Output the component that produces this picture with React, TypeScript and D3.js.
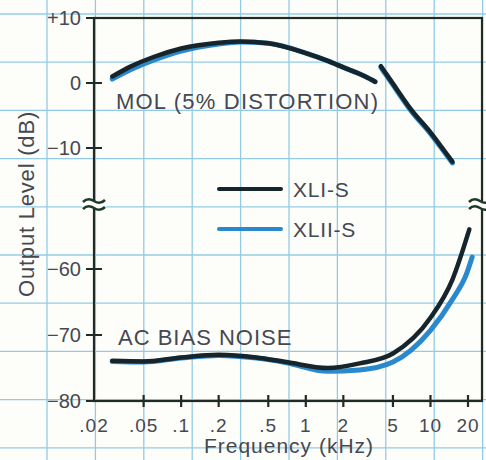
import React, { useRef, useEffect } from 'react';
import * as d3 from 'd3';

// x tick labels (kHz)
const freqTicks = [0.02, 0.05, 0.1, 0.2, 0.5, 1, 2, 5, 10, 20];
const freqTickLabels = ['.02', '.05', '.1', '.2', '.5', '1', '2', '5', '10', '20'];
// y tick values, upper and lower part of the broken axis
const upperTicks = [10, 0, -10];
const upperTickLabels = ['+10', '0', '\u221210'];
const lowerTicks = [-60, -70, -80];
const lowerTickLabels = ['\u221260', '\u221270', '\u221280'];

// MOL (5% distortion), low/mid band
const molFreqA = [0.028, 0.04, 0.06, 0.1, 0.2, 0.3, 0.5, 1, 1.5, 2, 3, 3.6];
const molXL1A = [1.0, 2.6, 4.0, 5.3, 6.2, 6.4, 6.1, 4.6, 3.4, 2.4, 1.0, 0.2];
const molXL2A = [0.6, 2.1, 3.5, 4.9, 6.0, 6.3, 6.1, 4.6, 3.4, 2.4, 1.0, 0.2];
// MOL, high band
const molFreqB = [4, 5, 7, 10, 13, 15];
const molXL1B = [2.6, -0.1, -4.1, -7.6, -10.5, -12.1];
const molXL2B = [2.4, -0.3, -4.3, -7.8, -10.7, -12.3];

// AC bias noise
const noiseFreq1 = [0.028, 0.05, 0.1, 0.2, 0.4, 0.7, 1.5, 2.7, 5, 10, 15, 20.5];
const noiseXL1 = [-73.9, -74.0, -73.4, -73.0, -73.4, -74.1, -75.0, -74.3, -72.8, -67.4, -61.6, -54.0];
const noiseFreq2 = [0.028, 0.05, 0.1, 0.2, 0.4, 0.7, 1.5, 2.7, 5, 10, 15, 19.6, 21.6];
const noiseXL2 = [-74.0, -74.1, -73.5, -73.1, -73.5, -74.2, -75.5, -75.3, -74.1, -69.3, -64.6, -60.6, -58.2];

const seriesNames = ['XLI-S', 'XLII-S'];

const W = 486;
const H = 460;
const BLACK = '#16252b';
const BLUE = '#2a88cc';
const TEXT = '#454852';
const GRID = '#93cbe6';
const FRAME = '#1f2b26';
const FONT = '"Liberation Sans", Arial, sans-serif';

const zip = (xs: number[], ys: number[]) => xs.map((x, i) => [x, ys[i]] as [number, number]);

const App = () => {
  const svgRef = useRef<SVGSVGElement>(null);

  useEffect(() => {
    if (!svgRef.current) return;
    const svg = d3.select(svgRef.current);
    svg.selectAll('*').remove();

    const left = 94, right = 482, top = 18, bottom = 401, breakY = 205;

    const x = d3.scaleLog().domain([0.02, 25.9]).range([left, right]);
    const yHi = d3.scaleLinear().domain([-20, 10]).range([213, top]);
    const yLo = d3.scaleLinear().domain([-80, -50]).range([bottom, 203]);

    svg.append('rect').attr('width', W).attr('height', H).attr('fill', '#fdfdf9');

    // graph paper
    const grid = svg.append('g').attr('stroke', GRID).attr('stroke-width', 1.3);
    d3.range(10).forEach(i => {
      grid.append('line').attr('x1', 47 + 48.4 * i).attr('x2', 47 + 48.4 * i).attr('y1', 0).attr('y2', H);
      grid.append('line').attr('y1', 14 + 48.2 * i).attr('y2', 14 + 48.2 * i).attr('x1', 0).attr('x2', W);
    });

    // frame
    svg.append('rect')
      .attr('x', left).attr('y', top)
      .attr('width', right - left).attr('height', bottom - top)
      .attr('fill', 'none').attr('stroke', FRAME).attr('stroke-width', 2.2);

    // axis breaks
    const brk = (cx: number) => {
      const g = svg.append('g');
      g.append('rect').attr('x', cx - 12).attr('y', breakY - 4).attr('width', 24).attr('height', 7).attr('fill', '#fdfdf9');
      [breakY - 4, breakY + 3].forEach(yy => {
        g.append('path')
          .attr('d', `M${cx - 11},${yy + 1} q5,-5 11,-1 t11,-1`)
          .attr('fill', 'none').attr('stroke', '#1f3a2a').attr('stroke-width', 2.6);
      });
    };
    brk(left);
    brk(right - 2);

    // y ticks
    const yTick = (yy: number, label: string) => {
      svg.append('line').attr('x1', 86).attr('x2', 102).attr('y1', yy).attr('y2', yy)
        .attr('stroke', FRAME).attr('stroke-width', 2);
      svg.append('text').attr('x', 81).attr('y', yy + 7).attr('text-anchor', 'end')
        .attr('font-family', FONT).attr('font-size', 20).attr('fill', TEXT).text(label);
    };
    upperTicks.forEach((v, i) => yTick(yHi(v), upperTickLabels[i]));
    lowerTicks.forEach((v, i) => yTick(yLo(v), lowerTickLabels[i]));

    // x ticks
    freqTicks.forEach((f, i) => {
      if (i > 0) {
        svg.append('line').attr('x1', x(f)).attr('x2', x(f)).attr('y1', 395).attr('y2', 407)
          .attr('stroke', FRAME).attr('stroke-width', 2.2);
      }
      svg.append('text').attr('x', x(f)).attr('y', 432).attr('text-anchor', 'middle')
        .attr('font-family', FONT).attr('font-size', 19).attr('letter-spacing', 1)
        .attr('fill', TEXT).text(freqTickLabels[i]);
    });

    // axis titles
    svg.append('text').attr('transform', `translate(34, 204) rotate(-90)`)
      .attr('text-anchor', 'middle').attr('font-family', FONT).attr('font-size', 22)
      .attr('letter-spacing', 0.8).attr('fill', TEXT).text('Output Level (dB)');
    svg.append('text').attr('x', 289).attr('y', 453).attr('text-anchor', 'middle')
      .attr('font-family', FONT).attr('font-size', 21).attr('letter-spacing', 1)
      .attr('fill', TEXT).text('Frequency (kHz)');

    // annotations
    svg.append('text').attr('x', 116).attr('y', 109).attr('font-family', FONT).attr('font-size', 22)
      .attr('letter-spacing', 1.2).attr('fill', TEXT).text('MOL (5% DISTORTION)');
    svg.append('text').attr('x', 118).attr('y', 345).attr('font-family', FONT).attr('font-size', 22)
      .attr('letter-spacing', 1).attr('fill', TEXT).text('AC BIAS NOISE');

    // curves
    const lineHi = d3.line<[number, number]>().x(d => x(d[0])).y(d => yHi(d[1])).curve(d3.curveMonotoneX);
    const lineLo = d3.line<[number, number]>().x(d => x(d[0])).y(d => yLo(d[1])).curve(d3.curveMonotoneX);

    const draw = (d: string | null, color: string, w: number) =>
      svg.append('path').attr('d', d).attr('fill', 'none').attr('stroke', color)
        .attr('stroke-width', w).attr('stroke-linecap', 'round');

    draw(lineHi(zip(molFreqA, molXL2A)), BLUE, 5);
    draw(lineHi(zip(molFreqA, molXL1A)), BLACK, 4.5);
    draw(lineHi(zip(molFreqB, molXL2B)), BLUE, 5);
    draw(lineHi(zip(molFreqB, molXL1B)), BLACK, 4.5);
    draw(lineLo(zip(noiseFreq2, noiseXL2)), BLUE, 5);
    draw(lineLo(zip(noiseFreq1, noiseXL1)), BLACK, 4.5);

    // legend
    [BLACK, BLUE].forEach((c, i) => {
      const yy = 189 + i * 40;
      svg.append('line').attr('x1', 219).attr('x2', 281).attr('y1', yy).attr('y2', yy)
        .attr('stroke', c).attr('stroke-width', 4).attr('stroke-linecap', 'round');
      svg.append('text').attr('x', 293).attr('y', yy + 8).attr('font-family', FONT)
        .attr('font-size', 21).attr('letter-spacing', 0.8).attr('fill', TEXT).text(seriesNames[i]);
    });
  }, []);

  return (
    <div style={{ position: 'absolute', left: 0, top: 0 }}>
      <svg ref={svgRef} width={W} height={H} style={{ display: 'block' }}></svg>
    </div>
  );
};

export default App;
